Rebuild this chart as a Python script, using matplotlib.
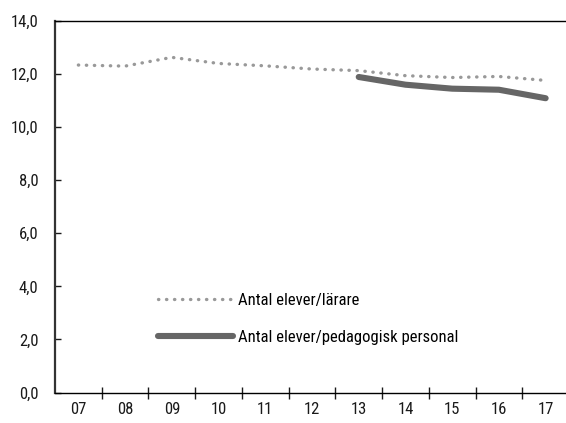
import matplotlib
matplotlib.use("Agg")
import matplotlib.pyplot as plt
from matplotlib import font_manager
from matplotlib.ticker import FixedLocator, FuncFormatter

# data
years = ["07", "08", "09", "10", "11", "12", "13", "14", "15", "16", "17"]
larare = [12.34, 12.30, 12.63, 12.40, 12.31, 12.19, 12.13, 11.94, 11.87, 11.91, 11.76]
ped_years = ["13", "14", "15", "16", "17"]
ped_personal = [11.89, 11.60, 11.45, 11.41, 11.09]

label_larare = "Antal elever/lärare"
label_ped = "Antal elever/pedagogisk personal"

# the reference uses a condensed face; take whichever narrow font is installed
narrow = []
for f in font_manager.fontManager.ttflist:
    if f.style != "normal" or f.weight not in (400, "normal", "regular"):
        continue
    if f.stretch in ("condensed", "semi-condensed", "extra-condensed") \
            or "Narrow" in f.name or "Condensed" in f.name:
        narrow.append(f)
prefs = ["Roboto Condensed", "Liberation Sans Narrow", "Open Sans Condensed",
         "Noto Sans", "DejaVu Sans"]
narrow.sort(key=lambda f: prefs.index(f.name) if f.name in prefs else 99)
if narrow:
    plt.rcParams['font.family'] = [narrow[0].name, 'DejaVu Sans']
    plt.rcParams['font.stretch'] = narrow[0].stretch
    fs = 12
else:
    plt.rcParams['font.family'] = ['DejaVu Sans']
    fs = 10

fig = plt.figure(figsize=(5.66, 4.23), dpi=100)
ax = fig.add_axes([55 / 566, 1 - 392.5 / 423, 514 / 566, 371.5 / 423])

x = list(range(len(years)))
xp = [years.index(y) for y in ped_years]

ax.plot(x, larare, color="#999999", lw=2.4, linestyle=(0, (0.1, 2.3)),
        dash_capstyle="round", label=label_larare)
ax.plot(xp, ped_personal, color="#666666", lw=4.4, solid_capstyle="round",
        label=label_ped)

ax.set_xlim(-0.5, len(years) - 0.5)
ax.set_ylim(0, 14)

ax.set_yticks(range(0, 15, 2))
ax.yaxis.set_major_formatter(FuncFormatter(lambda v, p: f"{v:.1f}".replace(".", ",")))
ax.tick_params(axis="y", direction="in", length=4, width=1, pad=12,
               labelsize=fs, colors="#1a1a1a")

ax.set_xticks(x)
ax.set_xticklabels(years)
ax.xaxis.set_minor_locator(FixedLocator([i + 0.5 for i in x[:-1]]))
ax.tick_params(axis="x", which="major", length=0, pad=7, labelsize=fs,
               colors="#1a1a1a")
ax.tick_params(axis="x", which="minor", direction="inout", length=8, width=1,
               color="#1a1a1a")

ax.spines["right"].set_visible(False)
ax.spines["left"].set_linewidth(1.6)
ax.spines["left"].set_color("#333333")
ax.spines["bottom"].set_linewidth(1.0)
ax.spines["top"].set_linewidth(1.0)

leg = ax.legend(loc="center left", bbox_to_anchor=(158 / 566, 1 - 319 / 423),
                bbox_transform=fig.transFigure, frameon=False, fontsize=fs,
                handlelength=4.5, handletextpad=0.3, labelspacing=1.35,
                borderpad=0, borderaxespad=0)

fig.savefig("out.png", dpi=100)
